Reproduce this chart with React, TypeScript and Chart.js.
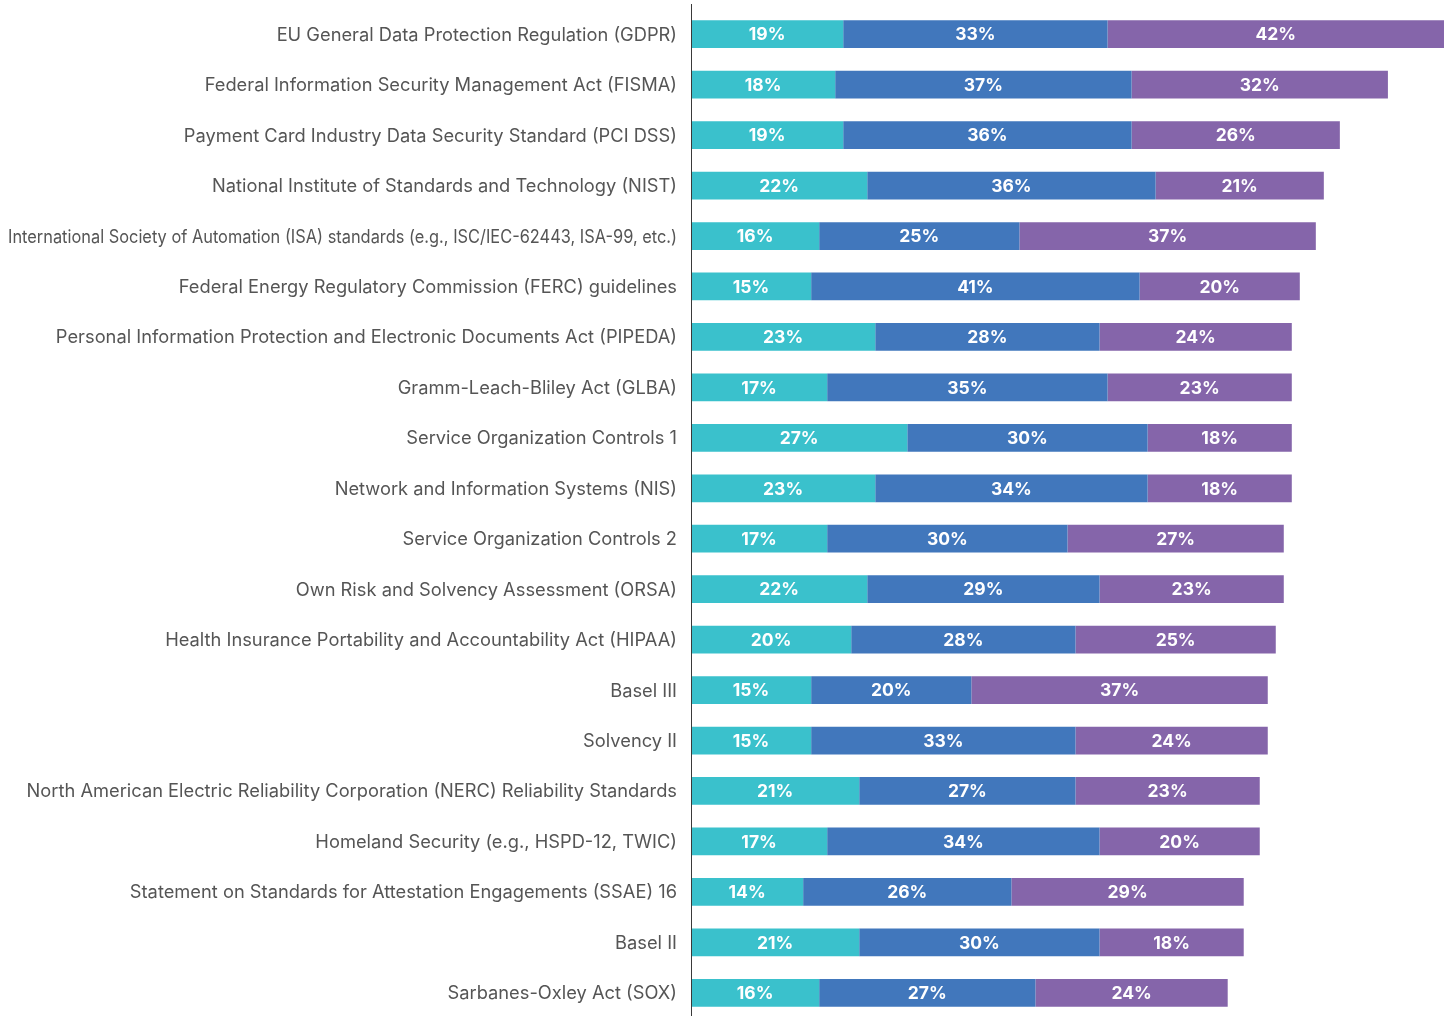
import React, { useEffect, useRef } from "react";
import { Chart, registerables } from "chart.js";

Chart.register(...registerables);

const categories = [
  "EU General Data Protection Regulation (GDPR)",
  "Federal Information Security Management Act (FISMA)",
  "Payment Card Industry Data Security Standard (PCI DSS)",
  "National Institute of Standards and Technology (NIST)",
  "International Society of Automation (ISA) standards (e.g., ISC/IEC-62443, ISA-99, etc.)",
  "Federal Energy Regulatory Commission (FERC) guidelines",
  "Personal Information Protection and Electronic Documents Act (PIPEDA)",
  "Gramm-Leach-Bliley Act (GLBA)",
  "Service Organization Controls 1",
  "Network and Information Systems (NIS)",
  "Service Organization Controls 2",
  "Own Risk and Solvency Assessment (ORSA)",
  "Health Insurance Portability and Accountability Act (HIPAA)",
  "Basel III",
  "Solvency II",
  "North American Electric Reliability Corporation (NERC) Reliability Standards",
  "Homeland Security (e.g., HSPD-12, TWIC)",
  "Statement on Standards for Attestation Engagements (SSAE) 16",
  "Basel II",
  "Sarbanes-Oxley Act (SOX)",
];

const seriesNames = ["Segment 1", "Segment 2", "Segment 3"];

const series1 = [19, 18, 19, 22, 16, 15, 23, 17, 27, 23, 17, 22, 20, 15, 15, 21, 17, 14, 21, 16];
const series2 = [33, 37, 36, 36, 25, 41, 28, 35, 30, 34, 30, 29, 28, 20, 33, 27, 34, 26, 30, 27];
const series3 = [42, 32, 26, 21, 37, 20, 24, 23, 18, 18, 27, 23, 25, 37, 24, 23, 20, 29, 18, 24];

const colors = ["#3AC1CC", "#4177BC", "#8565AA"];

const xMax = 95;

const labelPlugin = {
  id: "customLabels",
  afterDraw(chart: any) {
    const ctx = chart.ctx;
    const area = chart.chartArea;
    const yScale = chart.scales.y;
    ctx.save();
    // axis line
    ctx.strokeStyle = "#3a3a3a";
    ctx.lineWidth = 1;
    ctx.beginPath();
    ctx.moveTo(Math.round(area.left) + 0.5, area.top - 5);
    ctx.lineTo(Math.round(area.left) + 0.5, area.bottom);
    ctx.stroke();
    // category labels
    ctx.font = "400 18.3px Inter";
    ctx.fillStyle = "#555555";
    ctx.textAlign = "right";
    ctx.textBaseline = "middle";
    categories.forEach((c, i) => {
      const y = yScale.getPixelForValue(i);
      ctx.fillText(c, area.left - 14, y + 1, area.left - 22);
    });
    // value labels
    ctx.font = "bold 17.5px Inter";
    ctx.fillStyle = "#ffffff";
    ctx.textAlign = "center";
    chart.data.datasets.forEach((ds: any, di: number) => {
      const meta = chart.getDatasetMeta(di);
      meta.data.forEach((el: any, i: number) => {
        const cx = (el.x + el.base) / 2;
        ctx.fillText(ds.data[i] + "%", cx, el.y + 1);
      });
    });
    ctx.restore();
  },
};

export default function App() {
  const ref = useRef<HTMLCanvasElement | null>(null);
  useEffect(() => {
    if (!ref.current) return;
    const chart = new Chart(ref.current, {
      type: "bar",
      data: {
        labels: categories,
        datasets: [series1, series2, series3].map((d, i) => ({
          label: seriesNames[i],
          data: d,
          backgroundColor: colors[i],
          borderWidth: 0,
          barPercentage: 0.55,
          categoryPercentage: 1,
        })),
      },
      options: {
        indexAxis: "y",
        responsive: false,
        animation: false,
        devicePixelRatio: 1,
        layout: { padding: { left: 691, top: 9, right: 0, bottom: 2 } },
        plugins: { legend: { display: false }, tooltip: { enabled: false } },
        scales: {
          x: { stacked: true, display: false, min: 0, max: xMax },
          y: { stacked: true, display: false },
        },
      },
      plugins: [labelPlugin],
    });
    (document as any).fonts?.ready?.then(() => chart.update());
    return () => chart.destroy();
  }, []);
  return (
    <div
      style={{
        position: "fixed",
        left: 0,
        top: 0,
        width: 1452,
        height: 1016,
        overflow: "hidden",
        background: "#fff",
      }}
    >
      <canvas ref={ref} width={1452} height={1020} style={{ display: "block" }} />
    </div>
  );
}
